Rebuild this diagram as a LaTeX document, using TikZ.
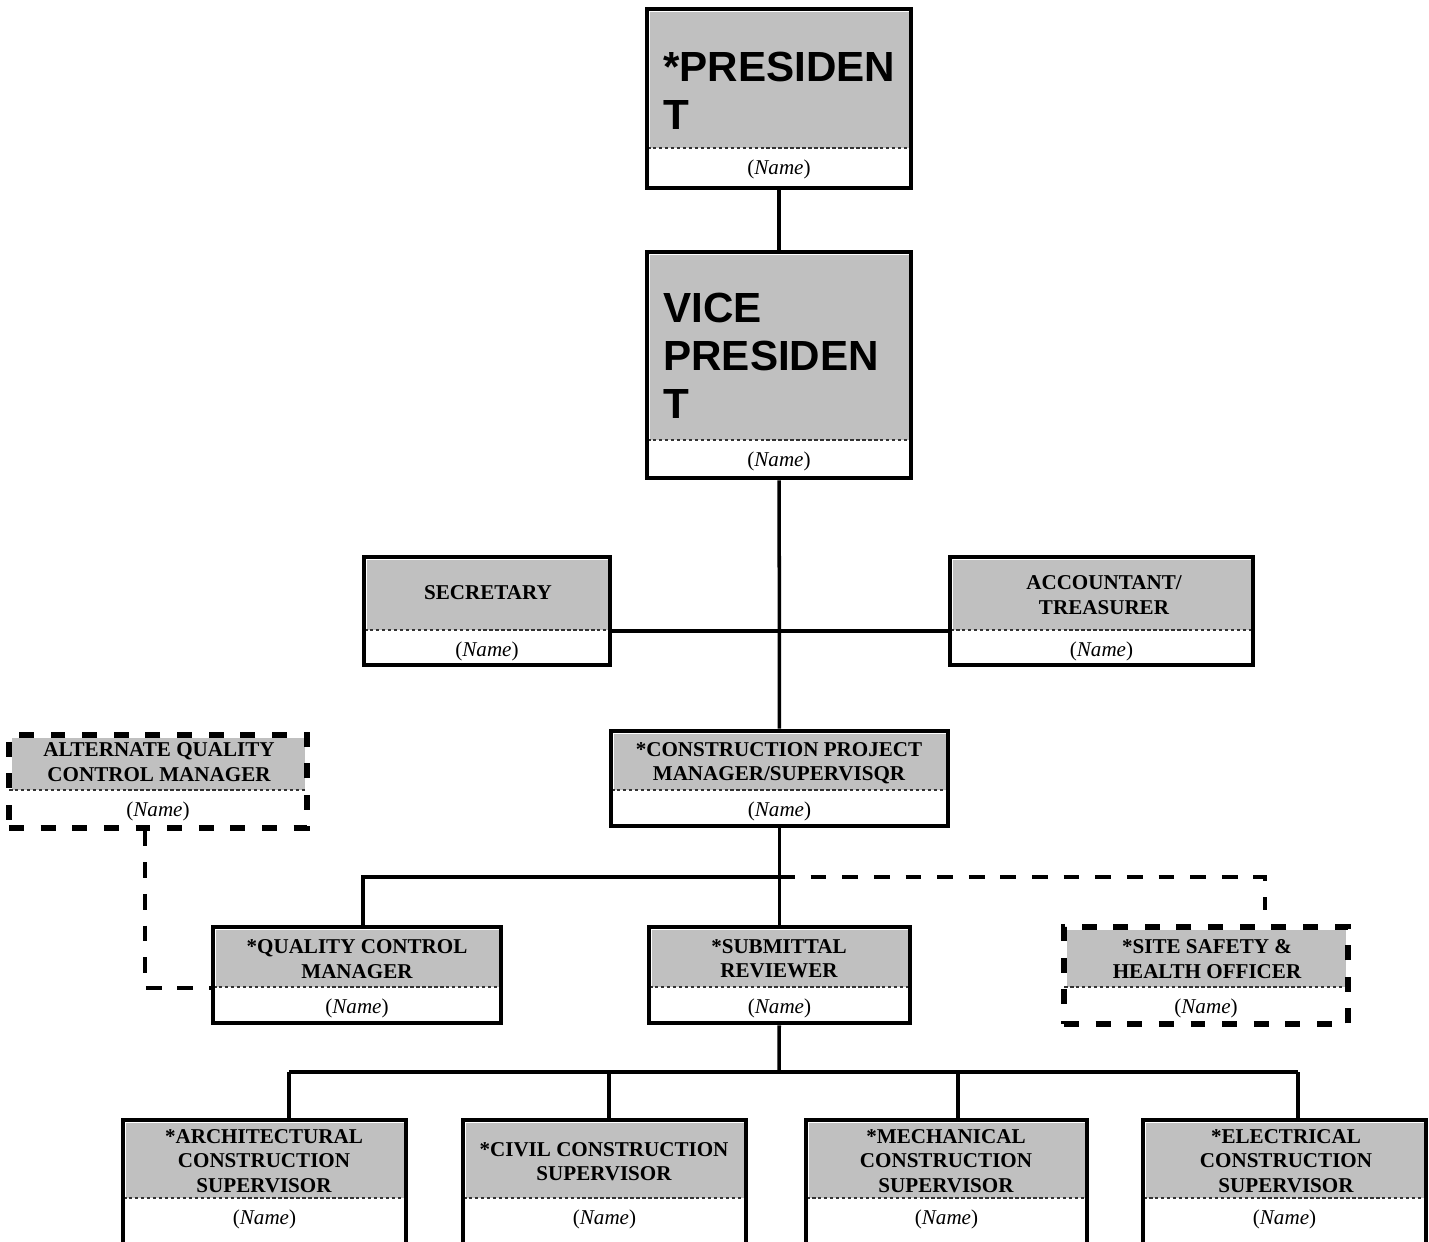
\documentclass[tikz,border=0pt]{standalone}
\usepackage{fontspec}
\setmainfont{Liberation Serif}
\newfontfamily\arialfont{Liberation Sans}
\usetikzlibrary{fit,positioning}
\definecolor{boxgray}{RGB}{192,192,192}
\tikzset{
  orgline/.style={draw, line width=2.6pt},
  orgdash/.style={draw, line width=3pt, dash pattern=on 8.5pt off 9.5pt},
  divline/.style={line width=0.7pt, dash pattern=on 2pt off 1.4pt, black!80},
  link/.style={line width=2pt},
  dashlink/.style={line width=2.2pt, dash pattern=on 9pt off 9pt},
  title/.style={font=\fontsize{12}{13.8}\selectfont\bfseries, align=center, inner sep=0pt},
  bigtitle/.style={font=\arialfont\fontsize{24}{27.2}\selectfont\bfseries, align=left, inner sep=0pt},
  who/.style={font=\fontsize{12}{14}\selectfont, inner sep=0pt},
}
% #1 name, #2 left, #3 top, #4 right, #5 bottom, #6 divider, #7 border
\newcommand{\orgbox}[7]{%
  \fill[boxgray] (#2+2.5,#3+2.5) rectangle (#4-2.5,#6);
  \draw[divline] (#2,#6) -- (#4,#6);
  \node[who] (#1-name) at ({(#2+#4)/2},#6+21) {(\textit{Name})};
  \path (#2,#3) coordinate (#1-nw) (#4,#5) coordinate (#1-se);
  \node[#7, fit=(#1-nw)(#1-se), inner sep=0pt] (#1) {};
}
\begin{document}
\begin{tikzpicture}[x=0.02cm,y=-0.02cm]
\useasboundingbox (0,0) rectangle (1429,1241);

\orgbox{pres}{647}{9}{911}{188}{148}{orgline}
\orgbox{vp}{647}{252}{911}{478}{440}{orgline}
\orgbox{sec}{364}{557}{610}{665}{630}{orgline}
\orgbox{acct}{950}{557}{1253}{665}{630}{orgline}
\orgbox{cpm}{611}{731}{948}{826}{790}{orgline}
\orgbox{altqc}{9}{735}{307}{828}{790}{orgdash}
\orgbox{qcm}{213}{927}{501}{1023}{987}{orgline}
\orgbox{sub}{649}{927}{910}{1023}{987}{orgline}
\orgbox{ssho}{1064}{927}{1348}{1024}{987}{orgdash}
\orgbox{arch}{123}{1120}{406}{1262}{1198}{orgline}
\orgbox{civil}{463}{1120}{746}{1262}{1198}{orgline}
\orgbox{mech}{806}{1120}{1087}{1262}{1198}{orgline}
\orgbox{elec}{1143}{1120}{1426}{1262}{1198}{orgline}

\node[bigtitle, anchor=north west] (pres-title) at (663,52) {*PRESIDEN\\T};
\node[bigtitle, anchor=north west] (vp-title) at (663,293) {VICE\\PRESIDEN\\T};
\node[title] (sec-title) at (488,593) {SECRETARY};
\node[title] (acct-title) at (1104,595) {ACCOUNTANT/\\TREASURER};
\node[title] (cpm-title) at (779,763) {*CONSTRUCTION PROJECT\\MANAGER/SUPERVISQR};
\node[title] (altqc-title) at (159,762) {ALTERNATE QUALITY\\CONTROL MANAGER};
\node[title] (qcm-title) at (357,959) {*QUALITY CONTROL\\MANAGER};
\node[title] (sub-title) at (779,959) {*SUBMITTAL\\REVIEWER};
\node[title] (ssho-title) at (1207,959) {*SITE SAFETY \&\\HEALTH OFFICER};
\node[title] (arch-title) at (264,1161) {*ARCHITECTURAL\\CONSTRUCTION\\SUPERVISOR};
\node[title] (civil-title) at (604,1162) {*CIVIL CONSTRUCTION\\SUPERVISOR};
\node[title] (mech-title) at (946,1161) {*MECHANICAL\\CONSTRUCTION\\SUPERVISOR};
\node[title] (elec-title) at (1286,1161) {*ELECTRICAL\\CONSTRUCTION\\SUPERVISOR};

\coordinate (staff) at (779,631);
\coordinate (qcbus) at (779,877);
\coordinate (qcdrop) at (363,877);
\coordinate (ssdrop) at (1265,877);
\coordinate (altdrop) at (145,988);
\coordinate (bus) at (779,1072);

\draw[link] (pres) -- (vp);
\draw[link] (vp) -- (cpm);
\draw[link] (sec.east |- staff) -- (acct.west |- staff);
\draw[link] (cpm) -- (sub);
\draw[link] (qcbus) -- (qcdrop) -- (qcdrop |- qcm.north);
\draw[dashlink] (qcbus) -- (ssdrop) -- ([yshift=8pt]ssdrop |- ssho.north);
\draw[dashlink] (altqc.south -| altdrop) -- (altdrop) -- (altdrop -| qcm.west);
\draw[link] (sub) -- (bus);
\foreach \col/\xx in {arch/289, civil/609, mech/958, elec/1298}{
  \coordinate (\col-up) at (\xx,1072);
  \draw[link] (\col-up) -- (\col-up |- \col.north);
}
\draw[link] (arch-up) -- (elec-up);
\end{tikzpicture}
\end{document}
